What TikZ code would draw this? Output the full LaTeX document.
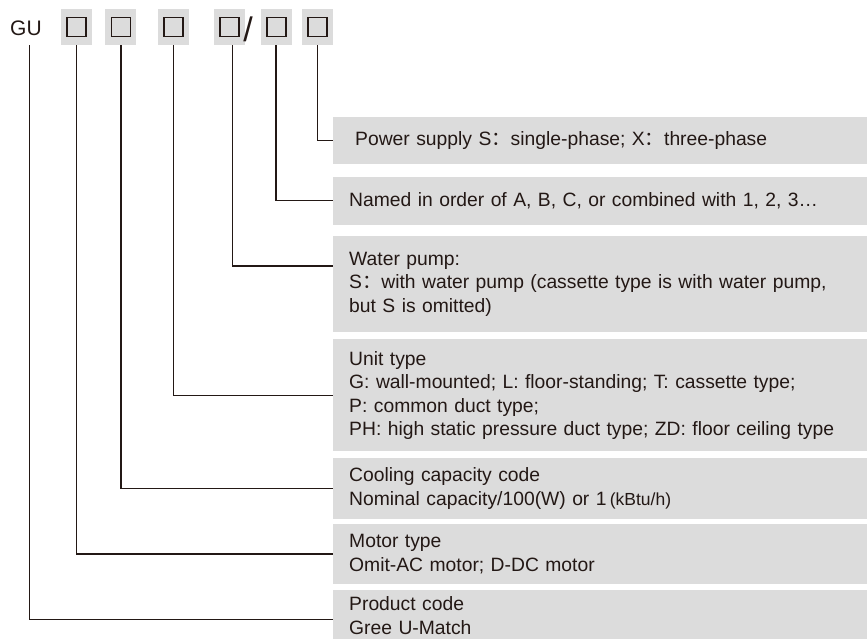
\documentclass[tikz,border=0pt]{standalone}
\usepackage{fontspec}
\setmainfont{Liberation Sans}
\newfontfamily\cjk{Noto Sans CJK SC}
\usetikzlibrary{positioning}
\definecolor{boxgray}{RGB}{220,220,220}
\definecolor{ink}{RGB}{35,24,21}

\begin{document}
\begin{tikzpicture}[
    x=1pt, y=-1pt,
    every node/.style={text=ink},
    code/.style={fill=boxgray, minimum width=31pt, minimum height=36pt, inner sep=0pt,
      path picture={\draw[ink, line width=1.8pt] ([shift={(-9.5pt,-9.5pt)}]path picture bounding box.center) rectangle ++(19pt,19pt);}},
    desc/.style={fill=boxgray, anchor=north west, text width=502pt, inner xsep=16pt, inner ysep=0pt,
      align=left, font=\fontsize{19.3}{23.5}\selectfont},
    link/.style={draw=ink, line width=1.5pt}
  ]
  \useasboundingbox (0,0) rectangle (867,639);

  \node[font=\fontsize{21}{21}\selectfont, anchor=base west, inner sep=0pt] (gu) at (10,36) {GU};
  \node[code] (c1) at (76.5,27) {};
  \node[code, right=13pt of c1] (c2) {};
  \node[code, right=21pt of c2] (c3) {};
  \node[code, right=25pt of c3] (c4) {};
  \node[code, right=15pt of c4] (c5) {};
  \node[code, right=10pt of c5] (c6) {};
  \node[font=\fontsize{34}{34}\selectfont, inner sep=0pt] (slash) at (248,29) {/};

  \node[desc, minimum height=47pt] (power) at (333,117)
    {\hspace{6pt}Power supply S{\cjk ：}single-phase; X{\cjk ：}three-phase};
  \node[desc, minimum height=48pt, below=12pt of power] (named)
    {Named in order of A, B, C, or combined with 1, 2, 3…};
  \node[desc, minimum height=96pt, below=11pt of named] (pump)
    {Water pump:\\S{\cjk ：}with water pump (cassette type is with water pump,\\but S is omitted)};
  \node[desc, minimum height=112pt, below=7pt of pump] (unit)
    {Unit type\\G: wall-mounted; L: floor-standing; T: cassette type;\\P: common duct type;\\PH: high static pressure duct type; ZD: floor ceiling type};
  \node[desc, minimum height=61pt, below=6pt of unit] (cooling)
    {Cooling capacity code\\Nominal capacity/100(W) or 1\,{\fontsize{17.5}{17.5}\selectfont(kBtu/h)}};
  \node[desc, minimum height=60pt, below=5pt of cooling] (motor)
    {Motor type\\Omit-AC motor; D-DC motor};
  \node[desc, minimum height=52pt, below=5pt of motor] (product)
    {Product code\\Gree U-Match};

  \draw[link] (c6.south) |- (power.west);
  \draw[link] (c5.south) |- (named.west);
  \draw[link] ([xshift=3pt]c4.south) |- ([yshift=18pt]pump.west);
  \draw[link] (c3.south) |- (unit.west);
  \draw[link] (c2.south) |- (cooling.west);
  \draw[link] (c1.south) |- (motor.west);
  \draw[link] ([xshift=3.5pt]gu.south |- c1.south) |- ([yshift=-4pt]product.west);

\end{tikzpicture}
\end{document}
